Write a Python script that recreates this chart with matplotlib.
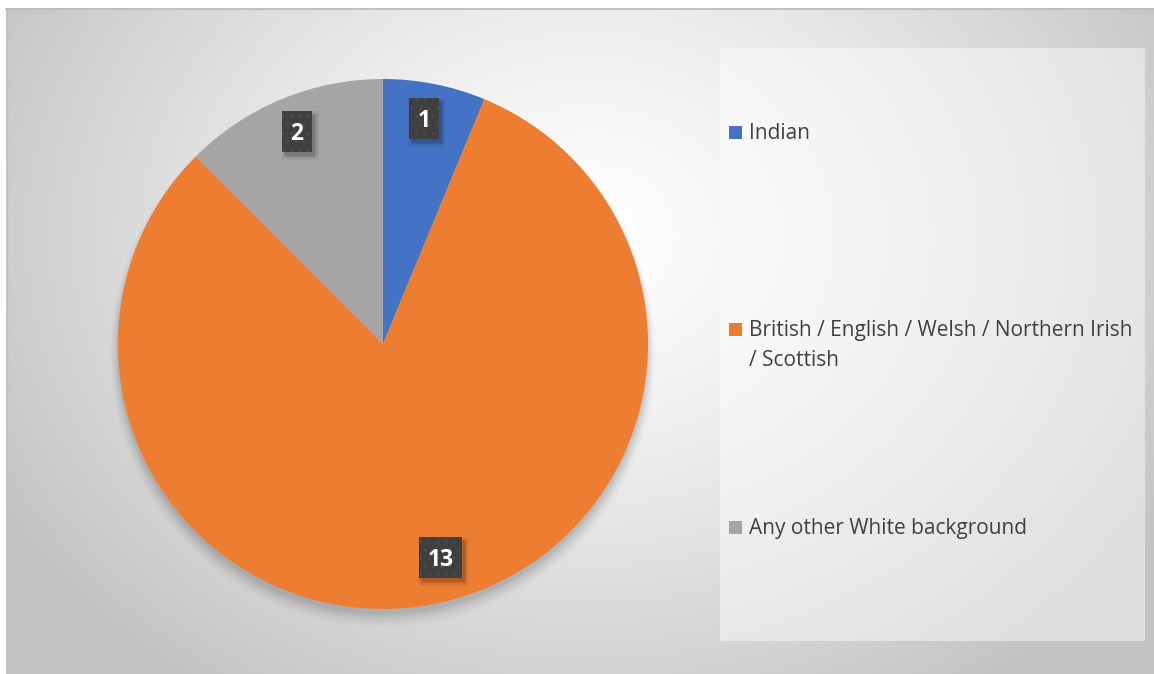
import numpy as np
import matplotlib.pyplot as plt
from matplotlib.patches import Rectangle

# data
categories = ['Indian', 'British / English / Welsh / Northern Irish\n/ Scottish', 'Any other White background']
counts = [1, 13, 2]
colors = ['#4472C4', '#ED7D31', '#A5A5A5']

W, H = 1154, 674
fig = plt.figure(figsize=(W / 100, H / 100), dpi=100)
fig.patch.set_facecolor('white')

# radial gradient background of the chart area
bg = fig.add_axes([0, 0, 1, 1])
yy, xx = np.mgrid[0:H, 0:W]
d = np.sqrt(((xx - 585) / 680.0) ** 2 + ((yy - 230) / 560.0) ** 2)
d = np.clip(d, 0, 1) ** 1.3
shade = 1.0 - d * (1.0 - 0.765)
img = np.dstack([shade, shade, shade])
bg.imshow(img, extent=(6, W, H, 8), origin='upper', zorder=0, interpolation='bilinear')
bg.set_xlim(0, W)
bg.set_ylim(H, 0)
bg.axis('off')
bg.plot([6, W], [8.5, 8.5], color='#BBBBBB', lw=1.2, zorder=1)
bg.plot([6.5, 6.5], [8, H], color='#C0C0C0', lw=1.0, zorder=1)

# legend panel (lighter overlay)
bg.add_patch(Rectangle((720, 48), 425, 593, facecolor='white', alpha=0.45, lw=0, zorder=2))

# pie
cx, cy, r = 383, 344, 265
ax = fig.add_axes([(cx - 291.5) / W, (H - cy - 291.5) / H, 583 / W, 583 / H])

# soft shadow under the pie
for i, a in enumerate(np.linspace(0.05, 0.012, 6)):
    sh = plt.Circle((0.0, -0.02 - 0.004 * i), 1.0 + 0.006 * i, color='black', alpha=a, lw=0, zorder=1)
    ax.add_patch(sh)

wedges, _ = ax.pie(counts, colors=colors, startangle=90, counterclock=False,
                   radius=1.0, wedgeprops=dict(linewidth=0), normalize=True)
for w in wedges:
    w.set_zorder(3)
ax.set_xlim(-1.1, 1.1)
ax.set_ylim(-1.1, 1.1)
ax.set_aspect('equal')
ax.axis('off')

# data labels: dark boxes, white bold numbers
label_dist = [0.865, 0.835, 0.865]
label_rot = [1.0, 3.8, -0.5]
fs = 16.5
labels = []
for w, n, ld, dr in zip(wedges, counts, label_dist, label_rot):
    mid = np.deg2rad((w.theta1 + w.theta2) / 2.0 + dr)
    x, y = ld * np.cos(mid), ld * np.sin(mid)
    t = ax.annotate(str(n), xy=(x, y), xytext=(0, -0.357 * fs), textcoords='offset points',
                    ha='center', va='baseline', fontsize=fs, fontweight='bold',
                    family='Open Sans', color='white', zorder=6)
    labels.append((t, x, y))

fig.canvas.draw()
px = 1.0 / r  # data units per pixel
for t, x, y in labels:
    ext = t.get_window_extent()
    bw, bh = (ext.width + 17) * px, 41 * px
    # blurred shadow
    for k, al in enumerate([0.10, 0.08, 0.06, 0.04]):
        g = k * 1.2 * px
        ax.add_patch(Rectangle((x - bw / 2 + 3 * px - g, y - bh / 2 - 4 * px - g), bw + 2 * g, bh + 2 * g,
                               facecolor='black', alpha=al, lw=0, zorder=4))
    ax.add_patch(Rectangle((x - bw / 2, y - bh / 2), bw, bh, facecolor='#3F3F3F',
                           edgecolor='#4B4B4B', hatch='..', lw=0, zorder=5))

# legend entries
leg_y = [132, 329, 527]
line_gap = 30
for lab, col, y in zip(categories, colors, leg_y):
    bg.add_patch(Rectangle((729, y - 6.5), 13, 13, facecolor=col, lw=0, zorder=3))
    for k, line in enumerate(lab.split('\n')):
        bg.text(749, y + 7 + k * line_gap, line, ha='left', va='baseline', fontsize=15,
                family='Open Sans', color='#404040', zorder=3)

fig.savefig('out.png', dpi=100, facecolor='white')
